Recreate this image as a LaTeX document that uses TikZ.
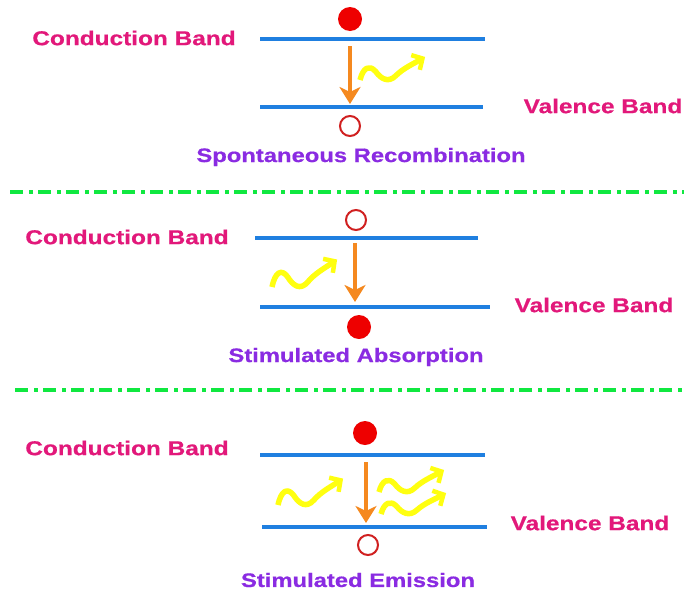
\documentclass[tikz,border=0pt]{standalone}
\usepackage{fontspec}
\setmainfont{Liberation Sans}
\newfontfamily\labfont[FakeStretch=1.22,FakeBold=0.6]{Liberation Sans}
\usetikzlibrary{arrows.meta}
\definecolor{bandpink}{HTML}{E2187A}
\definecolor{titlepurple}{HTML}{8A2BE2}
\definecolor{bandblue}{HTML}{1F7FE0}
\definecolor{arroworange}{HTML}{F5891F}
\definecolor{photonyellow}{HTML}{FFFF10}
\definecolor{sepgreen}{HTML}{10E840}
\definecolor{elecred}{HTML}{EE0000}
\definecolor{holered}{HTML}{D02020}
\tikzset{
  bandlabel/.style={text=bandpink,font=\labfont\bfseries\fontsize{20}{23}\selectfont,inner sep=0pt},
  proclabel/.style={text=titlepurple,font=\labfont\bfseries\fontsize{19.5}{23}\selectfont,inner sep=0pt},
  bandline/.style={draw=bandblue,line width=4pt},
  transition/.style={draw=arroworange,line width=4.5pt,-{Stealth[length=17pt,width=21pt,inset=5pt]}},
  electron/.style={circle,fill=elecred,minimum width=24pt,minimum height=22pt,inner sep=0pt},
  hole/.style={circle,draw=holered,line width=2pt,minimum size=20pt,inner sep=0pt},
  separator/.style={draw=sepgreen,line width=3.5pt,dash pattern=on 13pt off 6pt on 4pt off 5pt},
  photon/.pic={
    \draw[photonyellow,line width=5.5pt,line join=round,
      -{Straight Barb[length=8pt,width=17pt,line width=4.5pt]}]
      (0,0) .. controls (3,-12) and (9,-15) .. (15,-8)
      .. controls (20,-1) and (27,3) .. (34,-4)
      .. controls (41,-11) and (50,-15) .. (62,-22);
  }
}
\begin{document}
\begin{tikzpicture}[x=1pt,y=-1pt]
\useasboundingbox[fill=white] (0,0) rectangle (687,592);

% ---------- Panel 1: spontaneous recombination ----------
\coordinate (cb1L) at (260,39);  \coordinate (cb1R) at (485,39);
\coordinate (vb1L) at (260,107); \coordinate (vb1R) at (483,107);
\draw[bandline] (cb1L) -- (cb1R);
\draw[bandline] (vb1L) -- (vb1R);
\node[electron] (e1) at (350,19) {};
\node[hole] (h1) at (350,126) {};
\coordinate (t1s) at (350,46);
\coordinate (t1e) at (350,104);
\draw[transition] (t1s) -- (t1e);
\pic[xscale=1.05,yscale=1.05] (p1) at (360,80) {photon};
\node[bandlabel] (cbl1) at (134,38) {Conduction Band};
\node[bandlabel] (vbl1) at (603,106) {Valence Band};
\node[proclabel] (pl1) at (361,157) {Spontaneous Recombination};

% separator 1
\coordinate (s1L) at (10,192); \coordinate (s1R) at (684,192);
\draw[separator] (s1L) -- (s1R);

% ---------- Panel 2: stimulated absorption ----------
\coordinate (cb2L) at (255,238); \coordinate (cb2R) at (478,238);
\coordinate (vb2L) at (260,307); \coordinate (vb2R) at (490,307);
\draw[bandline] (cb2L) -- (cb2R);
\draw[bandline] (vb2L) -- (vb2R);
\node[hole] (h2) at (356,220) {};
\node[electron] (e2) at (359,327) {};
\coordinate (t2s) at (355,243);
\coordinate (t2e) at (355,302);
\draw[transition] (t2s) -- (t2e);
\pic[xscale=1.05,yscale=1.25] (p2) at (272,287) {photon};
\node[bandlabel] (cbl2) at (127,237) {Conduction Band};
\node[bandlabel] (vbl2) at (594,305) {Valence Band};
\node[proclabel] (pl2) at (356,357) {Stimulated Absorption};

% separator 2
\coordinate (s2L) at (15,390); \coordinate (s2R) at (685,390);
\draw[separator] (s2L) -- (s2R);

% ---------- Panel 3: stimulated emission ----------
\coordinate (cb3L) at (260,455); \coordinate (cb3R) at (485,455);
\coordinate (vb3L) at (262,527); \coordinate (vb3R) at (487,527);
\draw[bandline] (cb3L) -- (cb3R);
\draw[bandline] (vb3L) -- (vb3R);
\node[electron] (e3) at (365,433) {};
\node[hole] (h3) at (368,545) {};
\coordinate (t3s) at (366,462);
\coordinate (t3e) at (366,523);
\draw[transition] (t3s) -- (t3e);
\pic[xscale=1.05,yscale=1.2] (p3a) at (278,505) {photon};
\pic[xscale=1.05,yscale=1.0] (p3b) at (379,492) {photon};
\pic[xscale=1.05,yscale=0.95] (p3c) at (381,514) {photon};
\node[bandlabel] (cbl3) at (127,448) {Conduction Band};
\node[bandlabel] (vbl3) at (590,523) {Valence Band};
\node[proclabel] (pl3) at (358,580) {Stimulated Emission};
\end{tikzpicture}
\end{document}
